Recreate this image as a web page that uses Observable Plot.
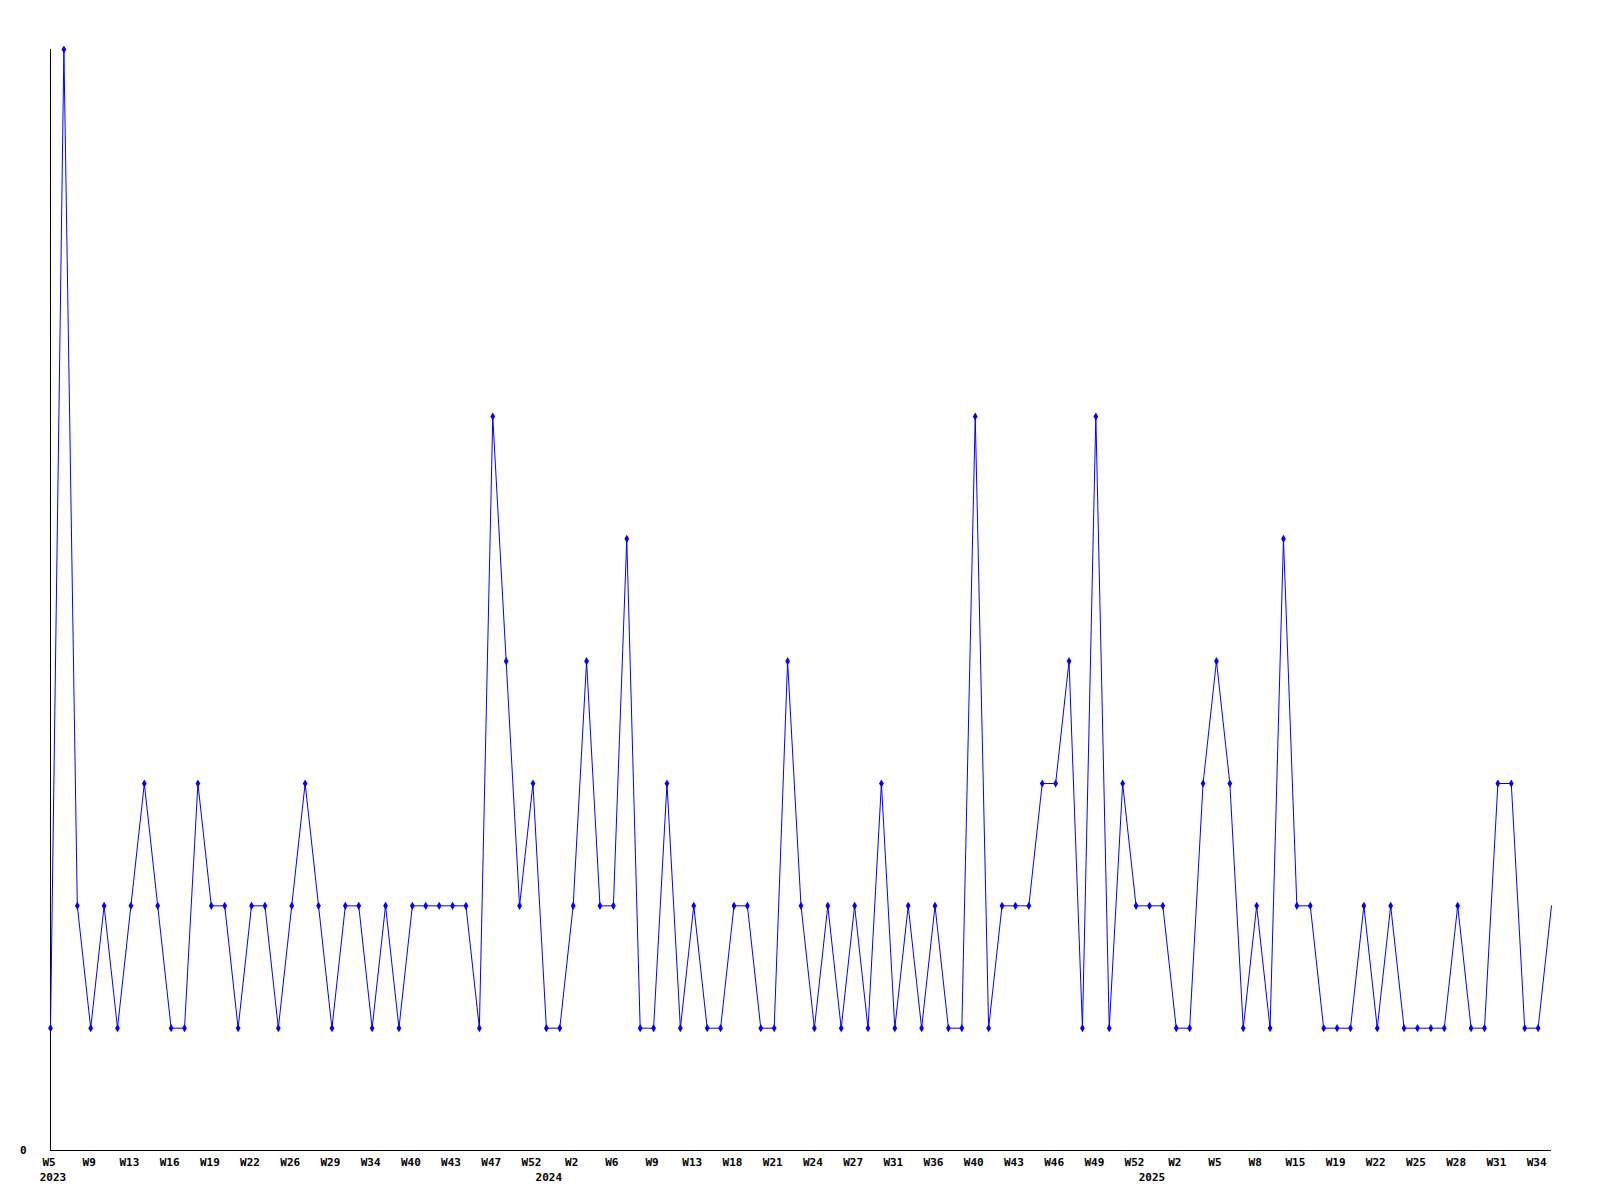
<!DOCTYPE html>
<html>
<head>
<meta charset="utf-8">
<script src="https://cdn.jsdelivr.net/npm/d3@7"></script>
<script src="https://cdn.jsdelivr.net/npm/@observablehq/plot@0.6"></script>
<style>
  html, body { margin: 0; padding: 0; background: #ffffff; }
  #chart svg { display: block; }
</style>
</head>
<body>
<div id="chart"></div>
<script>
// Weekly values, one per recorded week (weeks without data are not shown), 2023-W5 .. 2025-W35
const values = [
  1, 9, 2, 1, 2, 1, 2, 3, 2, 1,
  1, 3, 2, 2, 1, 2, 2, 1, 2, 3,
  2, 1, 2, 2, 1, 2, 1, 2, 2, 2,
  2, 2, 1, 6, 4, 2, 3, 1, 1, 2,
  4, 2, 2, 5, 1, 1, 3, 1, 2, 1,
  1, 2, 2, 1, 1, 4, 2, 1, 2, 1,
  2, 1, 3, 1, 2, 1, 2, 1, 1, 6,
  1, 2, 2, 2, 3, 3, 4, 1, 6, 1,
  3, 2, 2, 2, 1, 1, 3, 4, 3, 1,
  2, 1, 5, 2, 2, 1, 1, 1, 2, 1,
  2, 1, 1, 1, 1, 2, 1, 1, 3, 3,
  1, 1, 2
];

// Tick labels, one every third recorded week
const weekTicks = [
  "W5", "W9", "W13", "W16", "W19", "W22", "W26", "W29", "W34", "W40", "W43", "W47", "W52",
  "W2", "W6", "W9", "W13", "W18", "W21", "W24", "W27", "W31", "W36", "W40", "W43", "W46", "W49", "W52",
  "W2", "W5", "W8", "W15", "W19", "W22", "W25", "W28", "W31", "W34"
];
const tickStep = 3;

// Year labels and the index of the first recorded week of each year
const years = ["2023", "2024", "2025"];
const yearStart = [0, 37, 82];

const data = values.map((v, i) => ({ i, v }));
const tickIdx = weekTicks.map((_, k) => k * tickStep);
const lastIdx = values.length - 1;

const FONT = "'DejaVu Sans Mono', 'Liberation Mono', monospace";

const chart = Plot.plot({
  width: 1600,
  height: 1200,
  marginLeft: 50,
  marginRight: 49,
  marginTop: 49,
  marginBottom: 50,
  style: { fontFamily: FONT, fontSize: "11px", fontWeight: "bold", color: "#000", background: "#fff" },
  x: { type: "linear", domain: [0, lastIdx], axis: null, label: null },
  y: { type: "linear", domain: [0, 9], axis: null, label: null },
  marks: [
    Plot.axisX({
      ticks: tickIdx,
      tickFormat: (d) => weekTicks[Math.round(d / tickStep)],
      tickSize: 0,
      tickPadding: 8,
      dx: -1.5,
      label: null,
      fontWeight: "bold",
      fill: "#000"
    }),
    Plot.axisX({
      ticks: yearStart,
      tickFormat: (d) => years[yearStart.indexOf(d)],
      tickSize: 0,
      tickPadding: 23,
      dx: 2.5,
      label: null,
      fontWeight: "bold",
      fill: "#000"
    }),
    Plot.axisY({
      ticks: [0],
      tickFormat: (d) => String(d),
      tickSize: 0,
      tickPadding: 24,
      label: null,
      fontWeight: "bold",
      fill: "#000"
    }),
    Plot.ruleX([0], { stroke: "#000", strokeWidth: 1 }),
    Plot.ruleY([0], { stroke: "#000", strokeWidth: 1 }),
    Plot.line(data, { x: "i", y: "v", stroke: "#0000ff", strokeWidth: 1, curve: "linear" }),
    Plot.dot(data.filter((d) => d.i < lastIdx), {
      x: "i", y: "v", symbol: "diamond", r: 2.5, fill: "#0000ff", stroke: "none"
    })
  ]
});

document.getElementById("chart").appendChild(chart);
</script>
</body>
</html>
